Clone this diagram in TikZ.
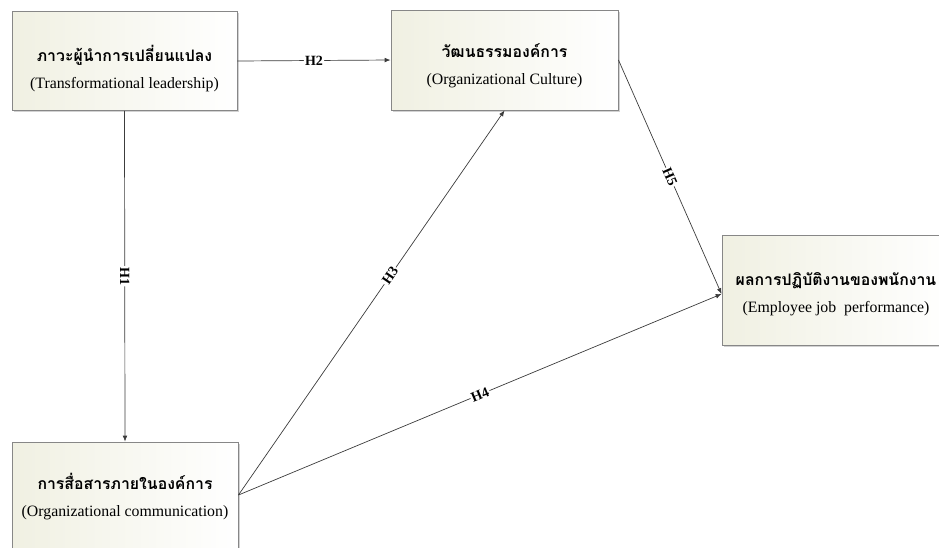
\documentclass[tikz,border=0pt]{standalone}
\usepackage{fontspec}
\setmainfont{Liberation Serif}
\newfontfamily\thaifont[Script=Thai]{Loma}
\usepackage{tikz}
\usetikzlibrary{positioning,arrows.meta,shadows}

\definecolor{boxfill}{RGB}{240,240,226}
\definecolor{boxline}{RGB}{135,135,135}
\definecolor{linkgray}{RGB}{60,60,60}

\newcommand{\thaitxt}[1]{{\thaifont\bfseries #1}}
\newcommand{\topgap}[1]{\rule{0pt}{#1}}

\begin{document}
\begin{tikzpicture}[
    x=0.03cm, y=-0.03cm,
    >={Latex[length=5pt,width=4pt]},
    var/.style={draw=boxline, line width=0.8pt, left color=boxfill, right color=white,
        drop shadow={shadow xshift=1.5pt, shadow yshift=-1.5pt, fill=black!35},
        align=center, inner sep=0pt, font=\fontsize{13.5}{23}\selectfont},
    hyp/.style={font=\bfseries\fontsize{12}{12}\selectfont, fill=white, inner sep=1pt, sloped},
    link/.style={->, draw=linkgray, line width=0.6pt}
]
\def\px{0.03cm}
\useasboundingbox (0,0) rectangle (939,547);
\clip (0,0) rectangle (939,547);

% === Boxes ===
\node[var, minimum width=225*\px, minimum height=99*\px] (lead) at (124.5,61)
    {\topgap{26pt}\thaitxt{ภาวะผู้นำการเปลี่ยนแปลง}\\(Transformational leadership)};
\node[var, minimum width=227*\px, minimum height=100*\px] (cult) at (504.5,60)
    {\topgap{22pt}\thaitxt{วัฒนธรรมองค์การ}\\(Organizational Culture)};
\node[var, minimum width=228*\px, minimum height=110*\px] (perf) at (836,290)
    {\topgap{19pt}\thaitxt{ผลการปฏิบัติงานของพนักงาน}\\(Employee job\ \ performance)};
\node[var, minimum width=226*\px, minimum height=110*\px] (comm) at (125,497)
    {\thaitxt{การสื่อสารภายในองค์การ}\\(Organizational communication)};

% === Hypotheses ===
\coordinate (commout) at ([yshift=2*\px]comm.east);
\coordinate (perfin) at ([yshift=-4*\px]perf.west);

\draw[link] (lead.south) -- node[hyp] {H1} (comm.north);
\draw[link] (lead.east) -- node[hyp] {H2} (cult.west);
\draw[link] (commout) -- node[hyp, pos=0.57] {H3} (cult.south);
\draw[link] (commout) -- node[hyp, pos=0.5] {H4} (perfin);
\draw[link] (cult.east) -- node[hyp, pos=0.5] {H5} (perfin);
\end{tikzpicture}
\end{document}
